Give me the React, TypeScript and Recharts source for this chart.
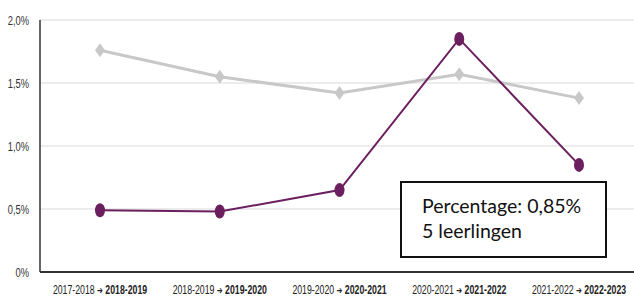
import React from 'react';
import { LineChart, Line, XAxis, YAxis, CartesianGrid } from 'recharts';

const fromYears = ['2017-2018', '2018-2019', '2019-2020', '2020-2021', '2021-2022'];
const toYears = ['2018-2019', '2019-2020', '2020-2021', '2021-2022', '2022-2023'];
const reference = [1.76, 1.55, 1.42, 1.57, 1.38];
const school = [0.49, 0.48, 0.65, 1.85, 0.85];
const yTicks = [0, 0.5, 1, 1.5, 2];
const yTickLabels = ['0%', '0,5%', '1,0%', '1,5%', '2,0%'];
const boxLines = ['Percentage: 0,85%', '5 leerlingen'];

const data = fromYears.map((f, i) => ({
  key: f + '|' + toYears[i],
  reference: reference[i],
  school: school[i],
}));

const FONT = '"Liberation Sans", Arial, sans-serif';

const XTick = (props: any) => {
  const { x, payload } = props;
  const [a, b] = String(payload.value).split('|');
  return (
    <g transform={`translate(${x},294) scale(0.7,1)`}>
      <text x={0} y={0} textAnchor="middle" fontFamily={FONT} fontSize={12.5} fill="#222">
        <tspan>{a} </tspan>
        <tspan fontWeight="bold" fontFamily='"DejaVu Sans", sans-serif' fontSize={10}>{'\u2794'}</tspan>
        <tspan fontWeight="bold"> {b}</tspan>
      </text>
    </g>
  );
};

const YTick = (props: any) => {
  const { x, y, payload } = props;
  const idx = yTicks.indexOf(payload.value);
  return (
    <g transform={`translate(${x},${y + 4.5}) scale(0.72,1)`}>
      <text x={0} y={0} textAnchor="end" fontFamily={FONT} fontSize={13} fill="#333">
        {yTickLabels[idx]}
      </text>
    </g>
  );
};

const Diamond = (props: any) => {
  const { cx, cy } = props;
  if (cx == null || cy == null) return null;
  return <path d={`M${cx},${cy - 7} L${cx + 5},${cy} L${cx},${cy + 7} L${cx - 5},${cy} Z`} fill="#c8c8c8" />;
};

const Oval = (props: any) => {
  const { cx, cy } = props;
  if (cx == null || cy == null) return null;
  return <ellipse cx={cx} cy={cy} rx={5} ry={7} fill="#6b1f5e" />;
};

export default function App() {
  return (
    <div style={{ position: 'absolute', left: 0, top: 0, width: 634, height: 296, background: '#fff' }}>
      <LineChart width={634} height={296} data={data} margin={{ top: 20, right: 0, left: 0, bottom: 0 }}>
        <CartesianGrid vertical={false} stroke="#e6e6e6" strokeWidth={1.5} />
        <XAxis
          dataKey="key"
          height={24}
          tick={<XTick />}
          tickLine={false}
          axisLine={{ stroke: '#333', strokeWidth: 2 }}
          interval={0}
          padding={{ left: 60, right: 55 }}
        />
        <YAxis
          width={40}
          domain={[0, 2]}
          ticks={yTicks}
          tick={<YTick />}
          tickLine={false}
          tickSize={0}
          tickMargin={11}
          axisLine={{ stroke: '#333', strokeWidth: 1.5 }}
        />
        <Line
          dataKey="reference"
          stroke="#c8c8c8"
          strokeWidth={3}
          dot={<Diamond />}
          activeDot={false}
          isAnimationActive={false}
        />
        <Line
          dataKey="school"
          stroke="#6b1f5e"
          strokeWidth={2}
          dot={<Oval />}
          activeDot={false}
          isAnimationActive={false}
        />
      </LineChart>
      <div
        style={{
          position: 'absolute',
          left: 400,
          top: 181,
          width: 207,
          height: 77,
          boxSizing: 'border-box',
          border: '2px solid #111',
          background: '#fff',
          fontFamily: 'Lato, "Open Sans", sans-serif',
          fontSize: 19.5,
          lineHeight: '25px',
          color: '#111',
          padding: '10px 0 0 20px',
        }}
      >
        {boxLines.map((l) => (
          <div key={l}>{l}</div>
        ))}
      </div>
    </div>
  );
}
